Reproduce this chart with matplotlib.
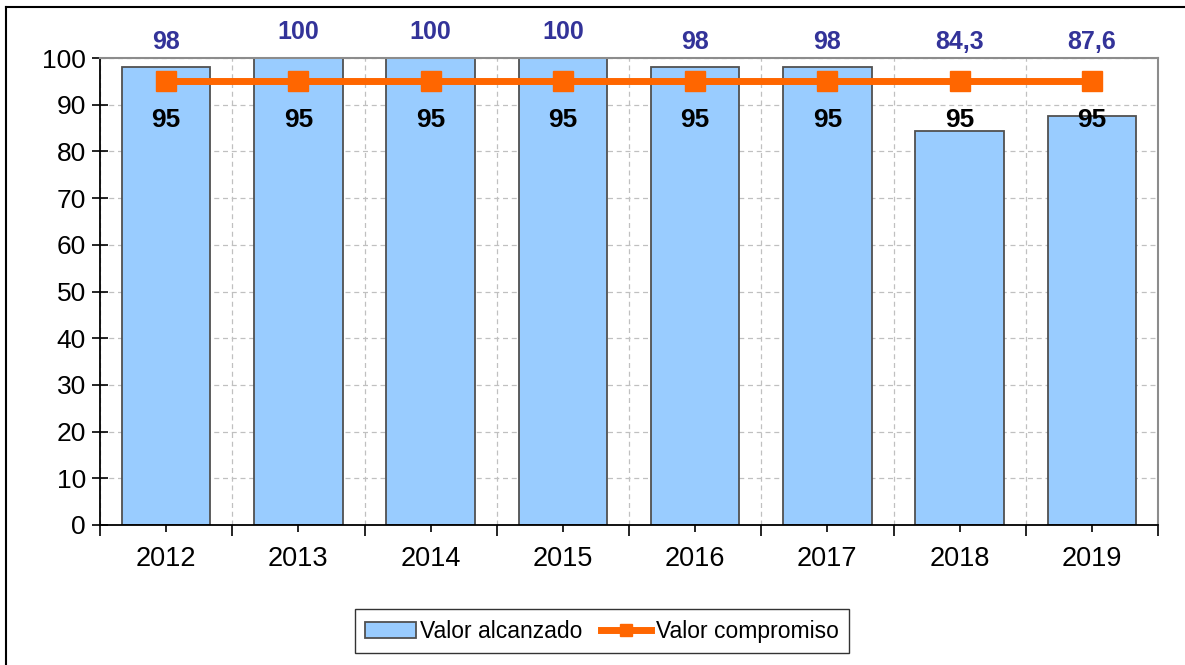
import numpy as np
import matplotlib.pyplot as plt
from matplotlib.lines import Line2D
from matplotlib.ticker import FixedLocator

plt.rcParams['font.family'] = ['Liberation Sans', 'DejaVu Sans']

# Data
years = ['2012', '2013', '2014', '2015', '2016', '2017', '2018', '2019']
alcanzado = [98, 100, 100, 100, 98, 98, 84.3, 87.6]
compromiso = [95, 95, 95, 95, 95, 95, 95, 95]
alcanzado_labels = ['98', '100', '100', '100', '98', '98', '84,3', '87,6']

fig = plt.figure(figsize=(11.85, 6.65), dpi=100)
ax = fig.add_axes([100 / 1185, 1 - 525 / 665, 1058 / 1185, 467 / 665])

x = np.arange(len(years))

# Bars
bars = ax.bar(x, alcanzado, width=0.67, color='#99CCFF', edgecolor='#505050',
              linewidth=1.3, zorder=2, label='Valor alcanzado')

# Commitment line
line, = ax.plot(x, compromiso, color='#FF6600', linewidth=5, marker='s',
                markersize=15, zorder=4, label='Valor compromiso')

# Labels of the bars (the low ones sit at the same height as the 98 ones)
label_y = np.maximum(alcanzado, 98) + 5.5
for xi, yi, txt in zip(x, label_y, alcanzado_labels):
    ax.text(xi, yi, txt, ha='center', va='center', fontsize=18,
            fontweight='bold', color='#333399', clip_on=False, zorder=5)

# Labels of the line
for xi, v in zip(x, compromiso):
    ax.annotate(str(v), (xi, v), xytext=(0, -28), textcoords='offset points',
                ha='center', va='center', fontsize=19, fontweight='bold',
                color='black', zorder=5)

# Axes
ax.set_xlim(-0.5, len(years) - 0.5)
ax.set_ylim(0, 100)
ax.set_yticks(np.arange(0, 101, 10))
ax.tick_params(axis='y', labelsize=19, direction='inout', length=12,
               width=1.2, pad=4)

# x: labels at centres, long ticks at category boundaries
ax.xaxis.set_major_locator(FixedLocator(np.arange(-0.5, len(years), 1)))
ax.xaxis.set_minor_locator(FixedLocator(x))
ax.set_xticklabels([''] * (len(years) + 1))
ax.set_xticklabels(years, minor=True)
ax.tick_params(axis='x', which='major', direction='out', length=8, width=1.2)
ax.tick_params(axis='x', which='minor', direction='out', length=5, width=1.2,
               labelsize=19.5, pad=10)

ax.grid(True, which='major', color='#c0c0c0', linestyle=(0, (4, 3)),
        linewidth=0.9, zorder=0)
ax.set_axisbelow(True)

for side in ['top', 'right']:
    ax.spines[side].set_color('#8c8c8c')
    ax.spines[side].set_linewidth(1.5)
for side in ['left', 'bottom']:
    ax.spines[side].set_color('black')
    ax.spines[side].set_linewidth(1.3)

# Legend
leg = fig.legend([bars, line], ['Valor alcanzado', 'Valor compromiso'],
                 loc='center', bbox_to_anchor=(0.508, 0.051), ncol=2,
                 fontsize=16.5, frameon=True, fancybox=False, edgecolor='black',
                 handlelength=2.2, columnspacing=0.8, handletextpad=0.2,
                 markerscale=0.6, borderpad=0.45)
leg.get_frame().set_linewidth(1.0)

# Outer chart border (top and left edges visible)
fig.add_artist(Line2D([6 / 1185, 1], [1 - 7 / 665, 1 - 7 / 665],
                      color='black', linewidth=1.5, transform=fig.transFigure))
fig.add_artist(Line2D([6 / 1185, 6 / 1185], [0, 1 - 7 / 665],
                      color='black', linewidth=1.5, transform=fig.transFigure))

fig.savefig('out.png', dpi=100)
